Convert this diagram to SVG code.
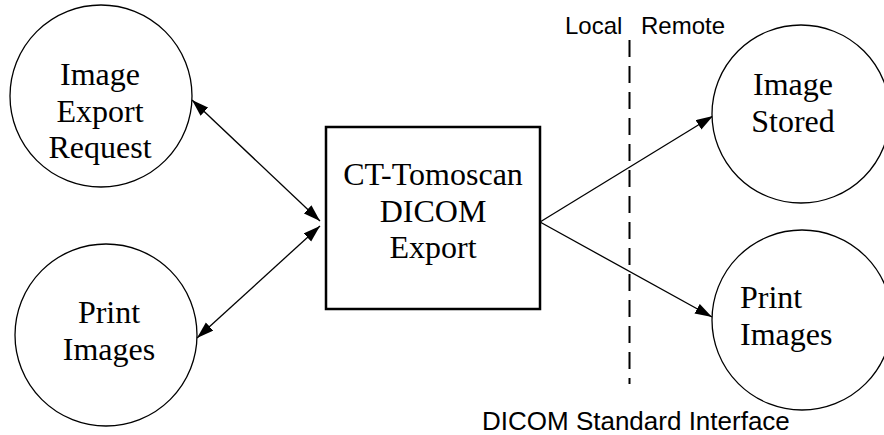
<svg xmlns="http://www.w3.org/2000/svg" width="884" height="435" viewBox="0 0 884 435">
<style>
.node{fill:#fff;stroke:#000;stroke-width:1.3}
.box{fill:#fff;stroke:#000;stroke-width:2.5}
.lbl{font-family:"Liberation Serif","Times New Roman",serif;font-size:32px;fill:#000}
.sans{font-family:"Liberation Sans",Arial,sans-serif;font-size:24px;fill:#000}
.edge{stroke:#000;stroke-width:1.3;fill:none}
</style>
<defs>
<marker id="ah" markerUnits="userSpaceOnUse" markerWidth="18" markerHeight="12" refX="17" refY="5.5" orient="auto-start-reverse">
<path d="M0,0 L17,5.5 L0,11 Z" fill="#000"/>
</marker>
</defs>
<rect width="884" height="435" fill="#fff"/>
<g id="connectors">
<line class="edge" x1="192" y1="100" x2="320" y2="221" marker-start="url(#ah)" marker-end="url(#ah)"/>
<line class="edge" x1="197" y1="338" x2="320" y2="226" marker-start="url(#ah)" marker-end="url(#ah)"/>
<line class="edge" x1="540" y1="222" x2="713" y2="116" marker-end="url(#ah)"/>
<line class="edge" x1="540" y1="222" x2="712" y2="317" marker-end="url(#ah)"/>
<line x1="629.5" y1="40" x2="629.5" y2="384" stroke="#000" stroke-width="2" stroke-dasharray="17,9"/>
</g>
<g id="n-image-export-request">
<circle class="node" cx="101" cy="96" r="91"/>
<text class="lbl" x="100" y="85" text-anchor="middle">Image</text>
<text class="lbl" x="100" y="122" text-anchor="middle">Export</text>
<text class="lbl" x="100" y="158" text-anchor="middle">Request</text>
</g>
<g id="n-print-images-local">
<circle class="node" cx="106" cy="335" r="91"/>
<text class="lbl" x="109" y="323" text-anchor="middle">Print</text>
<text class="lbl" x="109" y="360" text-anchor="middle">Images</text>
</g>
<g id="n-ct-tomoscan">
<rect class="box" x="326" y="127" width="214" height="182"/>
<text class="lbl" x="433" y="185" text-anchor="middle">CT-Tomoscan</text>
<text class="lbl" x="433" y="222" text-anchor="middle">DICOM</text>
<text class="lbl" x="433" y="258" text-anchor="middle">Export</text>
</g>
<g id="n-image-stored">
<circle class="node" cx="801" cy="114" r="89"/>
<text class="lbl" x="793" y="95" text-anchor="middle">Image</text>
<text class="lbl" x="793" y="132" text-anchor="middle">Stored</text>
</g>
<g id="n-print-images-remote">
<circle class="node" cx="802" cy="320" r="90"/>
<text class="lbl" x="740" y="308">Print</text>
<text class="lbl" x="740" y="345">Images</text>
</g>
<g id="labels">
<text class="sans" x="565" y="34">Local</text>
<text class="sans" x="641" y="34">Remote</text>
<text class="sans" x="482" y="430" style="font-size:26px">DICOM Standard Interface</text>
</g>
</svg>
